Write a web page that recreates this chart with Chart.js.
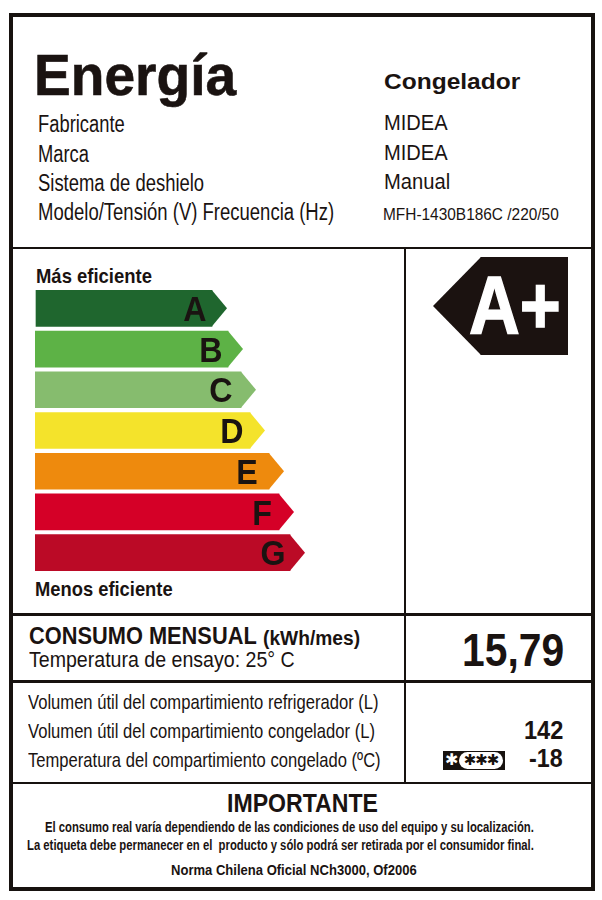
<!DOCTYPE html>
<html lang="es">
<head>
<meta charset="utf-8">
<title>Etiqueta de energía</title>
<script src="https://cdn.jsdelivr.net/npm/chart.js@4"></script>
<style>
    html, body { margin: 0; padding: 0; background: #fff; }
    #label { position: relative; width: 602px; height: 900px; overflow: hidden; color: #1a1311; font-family: "Liberation Sans", Arial, sans-serif; }
    #label canvas { position: absolute; }
    .line { position: absolute; background: #17120f; }
    .txt { position: absolute; white-space: pre; line-height: 1; transform-origin: 0 50%; }
    #badge { position: absolute; left: 443px; top: 751px; width: 62px; height: 19px; background: #17120f; }
    #badge span { position: absolute; font-family: "DejaVu Sans", sans-serif; line-height: 1; white-space: pre; }
    #badge .one { left: 2px; top: 1px; font-size: 16px; color: #fff; }
    #badge .pill { left: 16px; top: 1px; width: 44px; height: 17px; border-radius: 9px; background: #fff; color: #17120f; font-size: 15px; text-align: center; line-height: 17px; letter-spacing: -1px; }
</style>
</head>
<body>
<div id="label">
    <canvas id="classChart" width="280" height="285" style="left:35px;top:288px"></canvas>
    <canvas id="ratingChart" width="135" height="98" style="left:433px;top:257px"></canvas>
    <div id="badge"><span class="one">✱</span><span class="pill">✱✱✱</span></div>
</div>
<script>
// Energy classes, bar lengths
const classes = ["A", "B", "C", "D", "E", "F", "G"];
const classStart = [1, 0, 0, 0, 0, 0, 0];
const classEnd = [177, 193, 206, 215, 234, 244, 255];
const classColors = ["#1f662e", "#5db246", "#86bc6e", "#f4e32b", "#ee8a0d", "#d50027", "#bb0a26"];
const letterInset = [17, 17, 20, 18, 22, 17, 17];

// The rating arrow, same units
const ratingLabel = ["A+"];
const ratingBody = [[48, 135]];

// [text, left, baseline, size, bold, width, stroke]
const headerTexts = [
    ["Energía", 34, 95, 57, true, 202, 0.6],
    ["Congelador", 384, 90, 22, true, 136],
    ["Fabricante", 38, 132, 23, false, 87],
    ["Marca", 38, 162, 23, false, 51],
    ["Sistema de deshielo", 38, 191, 23, false, 166],
    ["Modelo/Tensión (V) Frecuencia (Hz)", 38, 220, 23, false, 296],
    ["MIDEA", 384, 131, 22, false, 64],
    ["MIDEA", 384, 161, 22, false, 64],
    ["Manual", 384, 190, 22, false, 66],
    ["MFH-1430B186C /220/50", 383, 220, 17, false, 176]
];
const scaleTexts = [
    ["Más eficiente", 36, 283, 21, true, 116],
    ["Menos eficiente", 35, 596, 21, true, 138],
    ["A+", 469, 334, 81, true, 92, 1.5]
];
const consumoTexts = [
    ["CONSUMO MENSUAL", 29, 644, 24, true, 228],
    ["(kWh/mes)", 263, 645, 20, true, 97],
    ["Temperatura de ensayo: 25° C", 29, 668, 22, false, 266],
    ["15,79", 462, 666, 46, true, 102]
];
const volumenTexts = [
    ["Volumen útil del compartimiento refrigerador (L)", 28, 709, 21, false, 351],
    ["Volumen útil del compartimiento congelador (L)", 28, 738, 21, false, 347],
    ["Temperatura del compartimiento congelado (ºC)", 28, 767, 21, false, 353],
    ["142", 524, 739, 26, true, 39],
    ["-18", 529, 767, 26, true, 34]
];
const footerTexts = [
    ["IMPORTANTE", 227, 812, 26, true, 151],
    ["El consumo real varía dependiendo de las condiciones de uso del equipo y su localización.", 45, 832, 14, true, 489],
    ["La etiqueta debe permanecer en el  producto y sólo podrá ser retirada por el consumidor final.", 27, 850, 14, true, 507],
    ["Norma Chilena Oficial NCh3000, Of2006", 171, 875, 15, true, 246]
];

// [left, top, width, height]
const rules = [
    [9, 13, 586, 4], [9, 887, 586, 4], [9, 13, 4, 878], [591, 13, 4, 878],
    [11, 247, 582, 2], [11, 613, 582, 3], [9, 680, 584, 3], [11, 782, 582, 2],
    [404, 248, 2, 535]
];

const label = document.getElementById("label");

rules.forEach(r => {
    const d = document.createElement("div");
    d.className = "line";
    d.style.cssText = `left:${r[0]}px;top:${r[1]}px;width:${r[2]}px;height:${r[3]}px`;
    label.appendChild(d);
});

function addTexts(list) {
    list.forEach(t => {
        const d = document.createElement("div");
        d.className = "txt";
        d.textContent = t[0];
        d.style.left = t[1] + "px";
        d.style.top = (t[2] - 0.8465 * t[3]) + "px";
        d.style.fontSize = t[3] + "px";
        d.style.fontWeight = t[4] ? "bold" : "normal";
        if (t[6]) d.style.webkitTextStroke = t[6] + "px currentColor";
        if (t[0] === ratingLabel[0]) d.style.color = "#fff";
        label.appendChild(d);
        // squeeze to the measured width, the label uses a narrow face
        d.style.transform = `scaleX(${t[5] / d.offsetWidth})`;
    });
}

// Draws the arrow point on each bar, and the letter if there is one
const arrowTips = {
    id: "arrowTips",
    afterDatasetsDraw(chart, args, opts) {
        const ctx = chart.ctx;
        const colors = chart.data.datasets[0].backgroundColor;
        chart.getDatasetMeta(0).data.forEach((bar, i) => {
            const half = bar.height / 2;
            const edge = opts.side === "left" ? Math.min(bar.x, bar.base) : Math.max(bar.x, bar.base);
            const point = opts.side === "left" ? edge - opts.length : edge + opts.length;
            ctx.save();
            ctx.fillStyle = colors[i];
            ctx.beginPath();
            ctx.moveTo(edge, bar.y - half);
            ctx.lineTo(point, bar.y);
            ctx.lineTo(edge, bar.y + half);
            ctx.closePath();
            ctx.fill();
            if (opts.letters) {
                ctx.fillStyle = "#1a1311";
                ctx.font = "bold 35px 'Liberation Sans', Arial, sans-serif";
                ctx.textAlign = "center";
                ctx.textBaseline = "middle";
                ctx.translate(edge - opts.letters[i], bar.y + 3);
                ctx.scale(0.92, 1);
                ctx.fillText(chart.data.labels[i], 0, 0);
            }
            ctx.restore();
        });
    }
};

function barOptions(xMax, tips) {
    return {
        indexAxis: "y",
        responsive: false,
        animation: false,
        devicePixelRatio: 1,
        layout: { padding: 0 },
        plugins: { legend: { display: false }, tooltip: { enabled: false }, arrowTips: tips },
        scales: {
            x: { display: false, min: 0, max: xMax },
            y: { display: false }
        }
    };
}

new Chart(document.getElementById("classChart"), {
    type: "bar",
    data: {
        labels: classes,
        datasets: [{
            data: classEnd.map((end, i) => [classStart[i], end]),
            backgroundColor: classColors,
            barThickness: 36,
            borderWidth: 0
        }]
    },
    options: barOptions(280, { side: "right", length: 15, letters: letterInset }),
    plugins: [arrowTips]
});

new Chart(document.getElementById("ratingChart"), {
    type: "bar",
    data: {
        labels: ratingLabel,
        datasets: [{
            data: ratingBody,
            backgroundColor: ["#1b1210"],
            barPercentage: 1,
            categoryPercentage: 1,
            borderWidth: 0
        }]
    },
    options: barOptions(135, { side: "left", length: 48 }),
    plugins: [arrowTips]
});

[headerTexts, scaleTexts, consumoTexts, volumenTexts, footerTexts].forEach(list => addTexts(list));
</script>
</body>
</html>
